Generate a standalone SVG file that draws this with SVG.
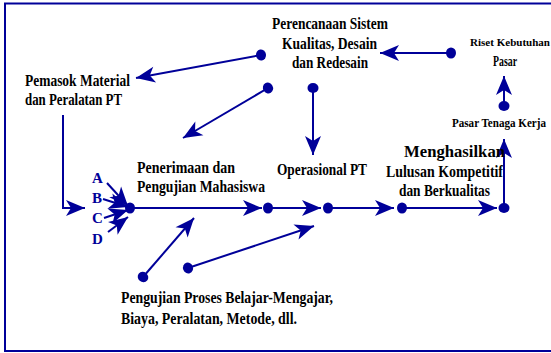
<svg xmlns="http://www.w3.org/2000/svg" width="551" height="353" viewBox="0 0 551 353">
<style>
.t{font-family:'Liberation Serif','Times New Roman',serif;fill:#000;font-size:16px;font-weight:bold}
.sm{font-size:12.5px}
.md{font-size:14px}
.xs{font-size:10.5px}
.lg{font-size:17px}
.lab{fill:#000099;font-size:15px}
.c{fill:none;stroke:#000099;stroke-width:2}
</style>
<defs>
<marker id="ah" viewBox="-20 -9 22 18" refX="0" refY="0" markerWidth="22" markerHeight="18" markerUnits="userSpaceOnUse" orient="auto">
<path d="M0,0 L-19,-8 L-14,0 L-19,8 Z" fill="#000099"/>
</marker>
<marker id="dot" viewBox="-6 -7 12 14" refX="0" refY="0" markerWidth="12" markerHeight="14" markerUnits="userSpaceOnUse" orient="auto">
<ellipse cx="0" cy="0" rx="5" ry="5.5" fill="#000099"/>
</marker>
</defs>
<rect x="5" y="3.5" width="560" height="347.5" fill="#fff" stroke="#000099" stroke-width="2"/>
<g id="connectors">
<path class="c" d="M63,115 V208 H85" marker-end="url(#ah)"/>
<path class="c" d="M130,208 H262" marker-start="url(#dot)" marker-end="url(#ah)"/>
<path class="c" d="M268,208 H321" marker-start="url(#dot)" marker-end="url(#ah)"/>
<path class="c" d="M328,208 H394" marker-start="url(#dot)" marker-end="url(#ah)"/>
<path class="c" d="M402,208 H497" marker-start="url(#dot)" marker-end="url(#ah)"/>
<path class="c" d="M504,208 V139" marker-start="url(#dot)" marker-end="url(#ah)"/>
<path class="c" d="M504,106 V76" marker-start="url(#dot)" marker-end="url(#ah)"/>
<path class="c" d="M451,53 H380" marker-start="url(#dot)" marker-end="url(#ah)"/>
<path class="c" d="M261,55 L136,78" marker-start="url(#dot)" marker-end="url(#ah)"/>
<path class="c" d="M268,88 L183,138" marker-start="url(#dot)" marker-end="url(#ah)"/>
<path class="c" d="M313,88 V155" marker-start="url(#dot)" marker-end="url(#ah)"/>
<path class="c" d="M143,277 L194,218" marker-start="url(#dot)" marker-end="url(#ah)"/>
<path class="c" d="M188,268 L314,226" marker-start="url(#dot)" marker-end="url(#ah)"/>
<path class="c" d="M107,183 L128,206" marker-end="url(#ah)"/>
<path class="c" d="M103,199 L128,207" marker-end="url(#ah)"/>
<path class="c" d="M104,218 L128,210" marker-end="url(#ah)"/>
<path class="c" d="M108,232 L128,217" marker-end="url(#ah)"/>
</g>
<g id="perencanaan">
<text class="t" x="272" y="29" textLength="116" lengthAdjust="spacingAndGlyphs">Perencanaan Sistem</text>
<text class="t" x="282" y="49" textLength="95" lengthAdjust="spacingAndGlyphs">Kualitas, Desain</text>
<text class="t" x="292" y="68" textLength="76" lengthAdjust="spacingAndGlyphs">dan Redesain</text>
</g>
<g id="riset">
<text class="t xs" x="470" y="46" textLength="80" lengthAdjust="spacingAndGlyphs">Riset Kebutuhan</text>
<text class="t md" x="493" y="66" textLength="24" lengthAdjust="spacingAndGlyphs">Pasar</text>
</g>
<g id="pemasok">
<text class="t" x="25" y="86" textLength="105" lengthAdjust="spacingAndGlyphs">Pemasok Material</text>
<text class="t" x="25" y="105" textLength="97" lengthAdjust="spacingAndGlyphs">dan Peralatan PT</text>
</g>
<g id="pasar-tenaga">
<text class="t sm" x="452" y="127" textLength="94" lengthAdjust="spacingAndGlyphs">Pasar Tenaga Kerja</text>
</g>
<g id="penerimaan">
<text class="t" x="137" y="173" textLength="98" lengthAdjust="spacingAndGlyphs">Penerimaan  dan</text>
<text class="t" x="137" y="192" textLength="128" lengthAdjust="spacingAndGlyphs">Pengujian Mahasiswa</text>
</g>
<g id="operasional">
<text class="t" x="277" y="175" textLength="90" lengthAdjust="spacingAndGlyphs">Operasional PT</text>
</g>
<g id="menghasilkan">
<text class="t lg" x="404" y="157" textLength="101" lengthAdjust="spacingAndGlyphs">Menghasilkan</text>
<text class="t lg" x="386" y="177" textLength="117" lengthAdjust="spacingAndGlyphs">Lulusan Kompetitif</text>
<text class="t" x="399" y="196" textLength="91" lengthAdjust="spacingAndGlyphs">dan Berkualitas</text>
</g>
<g id="pengujian-proses">
<text class="t" x="121" y="303" textLength="212" lengthAdjust="spacingAndGlyphs">Pengujian Proses Belajar-Mengajar,</text>
<text class="t" x="121" y="324" textLength="176" lengthAdjust="spacingAndGlyphs">Biaya, Peralatan, Metode, dll.</text>
</g>
<g id="abcd">
<text class="t lab" x="92" y="183">A</text>
<text class="t lab" x="92" y="203">B</text>
<text class="t lab" x="92" y="223">C</text>
<text class="t lab" x="92" y="244">D</text>
</g>
</svg>
